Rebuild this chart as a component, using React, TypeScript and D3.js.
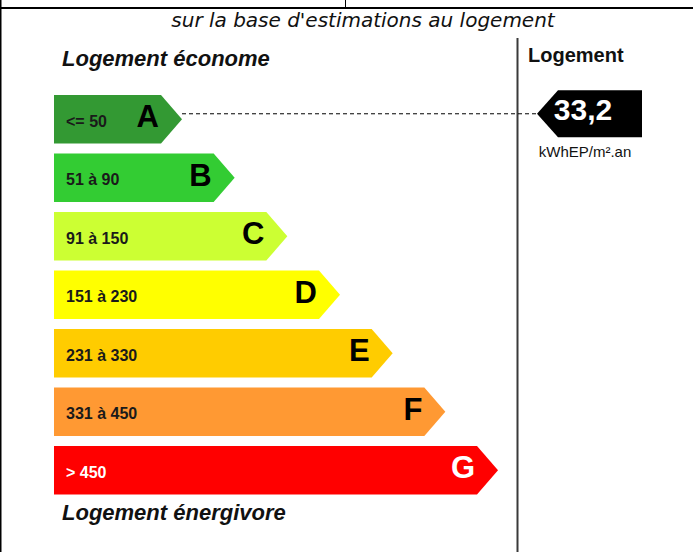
import { useEffect, useRef } from "react";
import * as d3 from "d3";

// DPE classes, their ranges (kWhEP/m².an) and colours
const classes = ["A", "B", "C", "D", "E", "F", "G"];
const ranges = ["<= 50", "51 à 90", "91 à 150", "151 à 230", "231 à 330", "331 à 450", "> 450"];
const colors = ["#339933", "#33cc33", "#ccff33", "#ffff00", "#ffcc00", "#ff9933", "#ff0000"];
const lightText = ["G"];

const value = 33.2;
const valueClass = "A";
const valueLabel = "33,2";
const unitLabel = "kWhEP/m².an";

const subtitle = "sur la base d'estimations au logement";
const topLabel = "Logement économe";
const bottomLabel = "Logement énergivore";
const sideTitle = "Logement";

const W = 693;
const H = 552;

export default function App() {
  const svgRef = useRef<SVGSVGElement | null>(null);

  useEffect(() => {
    if (!svgRef.current) return;
    const svg = d3.select(svgRef.current);
    svg.selectAll("*").remove();

    const arial = "'Liberation Sans', Arial, sans-serif";

    // frame lines of the surrounding table
    svg.append("line").attr("x1", 0).attr("x2", W).attr("y1", 8).attr("y2", 8)
      .attr("stroke", "#000").attr("stroke-width", 2);
    svg.append("line").attr("x1", 0.75).attr("x2", 0.75).attr("y1", 0).attr("y2", H)
      .attr("stroke", "#000").attr("stroke-width", 1.5);
    svg.append("line").attr("x1", 345.5).attr("x2", 345.5).attr("y1", 0).attr("y2", 8)
      .attr("stroke", "#000").attr("stroke-width", 1);

    svg.append("text")
      .attr("x", 363).attr("y", 27)
      .attr("text-anchor", "middle")
      .attr("font-family", "'DejaVu Sans', Verdana, sans-serif")
      .attr("font-style", "italic")
      .attr("font-size", 20)
      .attr("fill", "#111")
      .text(subtitle);

    // scales
    const y = d3.scaleBand<string>().domain(classes).range([95, 494.6]).paddingInner(0.17);
    const xEnd = d3.scaleLinear().domain([0, classes.length - 1]).range([161, 477]);
    const x0 = 54;
    const tip = 21;

    const rows = classes.map((c, i) => ({ c, range: ranges[i], color: colors[i], i }));

    const g = svg.append("g");
    const row = g.selectAll("g.row").data(rows).enter().append("g").attr("class", "row");

    row.append("path")
      .attr("d", (d) => {
        const top = y(d.c)!;
        const h = y.bandwidth();
        const r = xEnd(d.i);
        return `M${x0},${top}H${r}L${r + tip},${top + h / 2}L${r},${top + h}H${x0}Z`;
      })
      .attr("fill", (d) => d.color);

    row.append("text")
      .attr("x", 66)
      .attr("y", (d) => y(d.c)! + y.bandwidth() / 2 + 7.5)
      .attr("font-family", arial)
      .attr("font-weight", "bold")
      .attr("font-size", 16)
      .attr("fill", (d) => (lightText.includes(d.c) ? "#fff" : "#1a1a1a"))
      .text((d) => d.range);

    row.append("text")
      .attr("x", (d) => xEnd(d.i) - 2)
      .attr("y", (d) => y(d.c)! + y.bandwidth() / 2 + 8)
      .attr("text-anchor", "end")
      .attr("font-family", arial)
      .attr("font-weight", "bold")
      .attr("font-size", 31)
      .attr("fill", (d) => (lightText.includes(d.c) ? "#fff" : "#000"))
      .text((d) => d.c);

    svg.append("text")
      .attr("x", 62).attr("y", 66)
      .attr("font-family", arial).attr("font-weight", "bold").attr("font-style", "italic")
      .attr("font-size", 22).attr("fill", "#111")
      .text(topLabel);

    svg.append("text")
      .attr("x", 62).attr("y", 520)
      .attr("font-family", arial).attr("font-weight", "bold").attr("font-style", "italic")
      .attr("font-size", 22).attr("fill", "#111")
      .text(bottomLabel);

    // separator
    svg.append("line").attr("x1", 517.5).attr("x2", 517.5).attr("y1", 38).attr("y2", H)
      .attr("stroke", "#3a3a3a").attr("stroke-width", 2);

    svg.append("text")
      .attr("x", 528).attr("y", 62)
      .attr("font-family", arial).attr("font-weight", "bold")
      .attr("font-size", 20).attr("fill", "#111")
      .text(sideTitle);

    // value marker
    const idx = classes.indexOf(valueClass);
    const vy = y(valueClass)! + y.bandwidth() / 2 - 5.5;
    const aTip = 537;
    const bodyL = 558;
    const bodyR = 642;
    const half = 23.5;

    svg.append("line")
      .attr("x1", xEnd(idx) + tip).attr("x2", aTip)
      .attr("y1", vy).attr("y2", vy)
      .attr("stroke", "#000").attr("stroke-width", 1)
      .attr("stroke-dasharray", "4,3");

    svg.append("path")
      .attr("d", `M${aTip},${vy}L${bodyL},${vy - half}H${bodyR}V${vy + half}H${bodyL}Z`)
      .attr("fill", "#000")
      .datum(value);

    svg.append("text")
      .attr("x", 583).attr("y", vy + 6.5)
      .attr("text-anchor", "middle")
      .attr("font-family", arial).attr("font-weight", "bold")
      .attr("font-size", 30).attr("fill", "#fff")
      .text(valueLabel);

    svg.append("text")
      .attr("x", 585).attr("y", 157)
      .attr("text-anchor", "middle")
      .attr("font-family", arial)
      .attr("font-size", 15).attr("fill", "#111")
      .text(unitLabel);
  }, []);

  return (
    <svg
      ref={svgRef}
      width={W}
      height={H}
      style={{ position: "fixed", left: 0, top: 0, background: "#fff" }}
    />
  );
}
